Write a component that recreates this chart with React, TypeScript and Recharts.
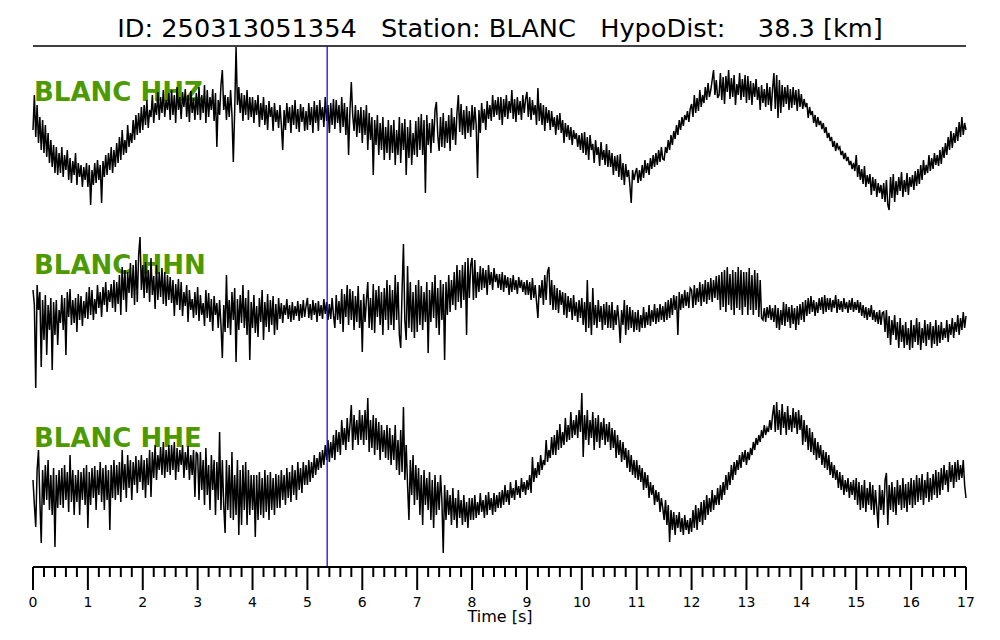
import { LineChart, Line, XAxis, YAxis, ReferenceLine } from "recharts"

// sampled every 0.025 s, amplitude in screen units (up = positive), one row per 0.5 s
const hhz = [
  -5, 30, -12, 20, -18, 8, -25, 5, -28, 0, -32, -8, -38, -15, -42, -20, -48, -22, -50, -28,
  -48, -22, -52, -30, -45, -25, -55, -33, -58, -36, -50, -28, -60, -38, -52, -40, -62, -42, -55, -38,
  -62, -40, -80, -45, -60, -38, -58, -35, -55, -40, -78, -36, -52, -30, -50, -28, -45, -22, -48, -25,
  -42, -18, -38, -12, -35, -5, -30, -15, -28, 0, -22, -8, -18, 5, -15, 10, -10, 12, -8, 18,
  -5, 20, 0, 25, -3, 15, 8, 30, 2, 22, 10, 33, 5, 28, 12, 35, 8, 25, 15, 32,
  5, 35, 10, 30, 2, 38, 15, 28, 6, 33, 18, 36, 8, 30, 3, 34, 12, 27, 5, 32,
  10, 38, 5, 30, 12, 40, 2, 35, 8, 28, 15, 36, 4, 32, -22, 25, 10, 40, 55, 15,
  30, 5, 28, 8, 35, 10, -37, 15, 78, 20, 38, 12, 32, 4, 30, 10, 35, 5, 28, 8,
  28, 2, 25, 10, 30, -2, 22, 5, 28, 0, 20, -5, 24, 8, 18, -6, 22, 3, 15, -3,
  20, 0, -25, 15, -5, 22, 2, 18, -8, 20, 0, 25, -4, 16, -7, 21, 3, 18, -6, 14,
  -5, 22, 0, 18, -8, 24, 2, 20, -6, 25, 5, 18, -2, 28, 4, 20, -8, 22, 0, 26,
  -4, 25, 2, 20, -8, 28, -2, 22, -10, 18, -30, 15, 43, 10, -6, 20, -12, 15, -8, 18,
  -18, 15, -10, 20, -25, 12, -15, 8, -50, 5, -20, 10, -30, 2, -25, 8, -35, -2, -28, 5,
  -35, 0, -28, 5, -40, -5, -30, 8, -38, 2, -25, 6, -50, -2, -33, 5, -40, -8, -30, 4,
  -32, 8, -25, 11, -30, 5, -68, 10, -20, 2, -28, 6, -18, 15, 23, -10, -26, 8, -22, 12,
  -23, 4, -18, 10, -26, 17, -15, 8, -20, 12, 30, -7, 21, -10, 15, -14, 19, -8, 14, -12,
  20, -5, 18, 0, -53, 15, -8, 22, 2, 16, -5, 24, 6, 20, 4, 30, 8, 25, 10, 28,
  5, 28, 0, 26, 8, 30, 6, 24, 12, 35, 6, 26, 3, 28, 10, 24, 5, 30, 12, 26,
  33, 8, 28, 5, 25, 10, 20, 0, 37, 4, 22, 0, 20, -6, 18, 2, 15, -5, 14, -2,
  8, -10, 10, -5, 12, -8, 5, -18, 2, -12, 0, -15, -2, -20, -5, -14, -8, -22, -10, -25,
  -8, -28, -7, -30, -12, -35, -10, -25, -19, -38, -15, -30, -22, -41, -17, -35, -25, -40, -19, -42,
  -25, -42, -28, -50, -31, -46, -30, -52, -29, -55, -38, -60, -39, -52, -45, -60, -78, -45, -55, -48,
  -43, -58, -45, -56, -40, -53, -35, -48, -38, -50, -33, -44, -30, -42, -28, -40, -25, -37, -22, -34,
  -35, -22, -28, -15, -25, -10, -20, -6, -14, 0, -10, 5, -5, 8, -1, 10, 5, 14, 3, 16,
  21, 8, 30, 12, 27, 14, 35, 18, 30, 22, 38, 25, 42, 28, 35, 45, 55, 30, 45, 27,
  30, 52, 25, 48, 21, 49, 33, 55, 26, 47, 28, 50, 20, 41, 30, 52, 25, 46, 28, 50,
  22, 49, 25, 44, 20, 42, 28, 46, 25, 38, 15, 40, 22, 36, 18, 42, 20, 38, 14, 36,
  52, 16, 50, 7, 45, 12, 40, 18, 38, 21, 40, 15, 36, 17, 38, 20, 35, 14, 36, 18,
  31, 16, 26, 18, 22, 7, 18, 10, 14, 2, 10, -2, 8, 0, 4, -4, 2, -8, -2, -13,
  -8, -16, -12, -22, -16, -26, -18, -24, -22, -30, -26, -34, -28, -36, -32, -40, -36, -44, -38, -46,
  -30, -52, -40, -55, -44, -59, -41, -62, -50, -59, -49, -70, -52, -66, -54, -72, -58, -68, -60, -74,
  -58, -77, -55, -80, -85, -52, -73, -49, -77, -56, -70, -52, -66, -47, -72, -55, -67, -48, -70, -52,
  -62, -50, -65, -46, -61, -44, -59, -40, -55, -35, -50, -40, -48, -30, -46, -33, -44, -28, -40, -30,
  -41, -25, -39, -22, -33, -18, -30, -12, -25, -6, -23, -8, -18, -2, -16, 3, -12, 8, -10, 2,
  -5,
]

const hhn = [
  20, 5, -78, 25, 0, 18, -57, 10, -30, 15, -45, 5, -20, 12, -60, 8, -25, 10, -35, 0,
  -13, 15, -20, 12, -45, 18, -7, 21, -15, 10, -13, 12, -22, 16, -10, 14, -16, 9, -8, 18,
  -9, 23, -5, 20, -10, 11, -4, 25, 2, 18, -7, 23, 5, 28, -2, 20, 8, 26, 2, 30,
  -2, 28, 6, 35, -5, 43, 10, 40, -2, 38, 17, 47, 12, 45, 5, 50, 8, 55, 73, 20,
  45, 12, 48, 17, 40, 8, 52, 15, 34, 1, 45, 10, 38, 13, 42, 6, 38, 4, 35, 10,
  33, 7, 30, -6, 26, 5, 31, 0, 28, -6, 18, 4, 25, -12, 20, 0, 11, -8, 18, -5,
  23, -11, 15, -5, 7, -16, 20, -8, 17, -12, 11, -21, 14, -5, 7, -18, 10, -15, -48, 5,
  -22, 35, -18, 10, -25, 18, -10, 22, -52, 11, -20, 15, -13, 25, -18, 12, -25, 20, -50, 8,
  -18, 15, -23, 4, -27, 12, -12, 20, -30, 8, -17, 16, -22, 10, -15, 14, -25, 6, -20, 12,
  -9, 7, -13, 5, -5, 11, -9, 5, -12, 8, -10, 4, -6, 9, -11, 6, -8, 10, -7, 4,
  12, -8, 6, -10, 10, -5, 7, -12, 9, -6, 5, -9, 11, -4, 8, -10, 6, -9, 12, -5,
  -18, 15, -10, 9, -14, 21, -22, 16, -7, 25, -15, 21, -10, 19, -20, 14, -12, 24, -18, 10,
  -42, 16, -12, 10, 28, -18, 12, -20, 26, -23, 20, -7, 24, -15, 18, -25, 22, -10, 30, -20,
  25, -15, 20, -20, 35, -10, 28, -25, -38, 20, 66, -10, -30, 44, -18, 28, -22, 18, -28, 25,
  -22, 30, -15, 24, -20, 18, -12, 28, -43, 20, -12, 28, -8, 35, -18, 22, -25, 30, -10, 26,
  -50, 28, -5, 35, -2, 30, 5, 38, 0, 45, 8, 40, 2, 45, 10, 48, -25, 52, 12, 45,
  52, 10, 50, 12, 38, 18, 44, 20, 42, 22, 40, 15, 45, 25, 38, 20, 42, 28, 36, 22,
  36, 20, 38, 18, 35, 22, 33, 15, 32, 18, 35, 20, 30, 16, 33, 22, 30, 18, 28, 15,
  30, 15, 28, 10, 32, 12, 25, 8, -8, 25, 12, 30, 5, 35, 10, 38, 43, 5, 30, 0,
  25, 0, 22, -3, 20, 5, 18, -5, 17, -8, 14, -2, 12, -10, 15, -6, 8, -12, 10, -8,
  12, -15, 8, -22, 30, -18, 8, -25, 22, -15, 5, -18, 10, -12, 4, -20, 6, -15, 8, -18,
  5, -18, 8, -20, 0, -15, 5, -10, -33, 0, -15, 10, -25, 5, -20, 3, -18, 0, -22, -2,
  -20, 0, -22, -5, -18, 3, -18, -2, -15, 5, -16, 0, -12, 6, -14, 2, -12, 6, -10, 4,
  -12, 8, -10, 10, -8, 12, -5, 15, 0, 14, -25, 18, 0, 16, 2, 20, 4, 18, 2, 22,
  20, 2, 25, 5, 22, 8, 28, 4, 26, 8, 30, 6, 28, 10, 32, 8, 30, 12, 34, 10,
  35, 0, 38, 3, 40, -2, 43, 5, 36, 0, 40, -5, 38, 2, 43, 0, 40, -5, 38, 3,
  38, -5, 42, 0, 35, -5, 40, 0, 37, -7, 30, -8, -10, 2, -12, 3, -8, 5, -10, 2,
  -12, 5, -18, 2, -20, 0, -15, 8, -16, 6, -12, 3, -18, 5, -14, 2, -20, 4, -15, 6,
  -10, 8, -12, 10, -6, 12, -4, 14, -2, 10, -6, 8, -3, 12, 0, 13, -4, 15, -2, 12,
  0, 12, -2, 10, 2, 15, -3, 11, 0, 9, -2, 12, 1, 8, -3, 10, 0, 12, -2, 8,
  0, 10, -3, 8, -6, 5, -8, 3, -10, 2, -7, 5, -10, 0, -12, -2, -14, 0, -15, -3,
  -2, -22, 0, -28, -6, -35, -10, -25, -5, -30, -12, -38, -8, -32, -15, -38, -12, -35, -18, -40,
  -10, -38, -15, -32, -8, -35, -12, -40, -18, -33, -10, -36, -14, -30, -12, -38, -16, -34, -10, -36,
  -15, -33, -12, -30, -18, -28, -10, -32, -14, -25, -8, -28, -12, -22, -5, -25, -8, -20, -2, -18,
  -6,
]

const hhe = [
  10, -15, -37, 20, 40, -10, -53, 20, -15, 25, -10, 30, -20, 15, -25, 22, -57, 15, -18, 20,
  -15, 22, -18, 25, -10, 18, -22, 35, -12, 20, -25, 15, -12, 20, -25, 18, -10, 22, -15, 25,
  -38, 18, -15, 22, -8, 24, -20, 20, -5, 28, -12, 22, -20, 25, -10, 20, -40, 25, -8, 30,
  -10, 25, -5, 28, -12, 40, 0, 26, -8, 35, 2, 30, -10, 28, 5, 34, -3, 30, 8, 35,
  0, 30, -8, 32, 5, 40, -7, 38, 12, 45, 10, 35, 20, 43, 15, 48, 12, 40, 18, 45,
  15, 45, 20, 48, 10, 42, 18, 40, 25, 45, 12, 38, 20, 44, 10, 35, 15, 40, -7, 38,
  35, -10, 38, 0, 30, -15, 42, -5, 25, -20, 35, 0, 30, -25, 28, -10, 58, -20, 30, -15,
  -43, 30, -20, 25, -28, 38, -30, 15, -25, 30, -45, 20, -35, 25, -20, 28, -35, 20, -25, 15,
  -20, 15, -47, 15, -30, 18, -25, 12, -28, 20, -22, 15, -30, 18, -20, 12, -25, 16, -18, 15,
  -18, 20, -10, 15, -15, 22, -8, 18, -12, 25, -5, 20, -10, 28, 0, 22, -3, 28, 5, 25,
  5, 30, 8, 28, 12, 35, 15, 32, 20, 38, 22, 40, 25, 45, 30, 50, 28, 48, 32, 55,
  30, 60, 38, 58, 35, 70, 45, 62, 40, 72, 48, 65, 85, 40, 75, 50, 70, 45, 80, 50,
  75, 45, 80, 50, 92, 38, 70, 42, 75, 35, 72, 40, 68, 30, 65, 38, 60, 32, 65, 30,
  62, 25, 55, 30, 65, 20, 50, 15, 60, 18, 83, 10, 45, 5, -30, 30, -5, 35, -15, 25,
  -10, 22, -25, 15, -35, 20, -15, 12, -20, 18, -30, 10, -38, 15, -25, 8, -20, 15, -10, -63,
  5, -30, 0, -25, -5, -35, 2, -30, -8, -38, 0, -28, -10, -35, -5, -32, -12, -38, -8, -30,
  -8, -30, -5, -28, -12, -25, -3, -22, -10, -28, -5, -25, -2, -20, -8, -25, -3, -22, -5, -18,
  -2, -18, 0, -15, 5, -12, 0, -15, 8, -8, 2, -10, 10, -5, 4, -8, 12, -2, 8, -5,
  10, 0, 15, -3, 33, 8, 22, 12, 28, 15, 35, 20, 30, 25, 50, 28, 40, 32, 53, 35,
  55, 35, 60, 40, 66, 42, 58, 45, 72, 48, 65, 50, 78, 52, 70, 55, 75, 52, 80, 58,
  97, 33, 75, 50, 80, 45, 70, 52, 78, 40, 72, 48, 75, 42, 68, 50, 72, 45, 66, 48,
  68, 40, 62, 42, 60, 32, 55, 35, 50, 28, 48, 30, 42, 22, 40, 18, 35, 15, 30, 12,
  30, 10, 25, 8, 22, 0, 18, 2, 15, -8, 8, -5, 5, -15, 0, -12, -2, -22, -8, -18,
  -30, -10, -35, -15, -52, -20, -40, -22, -45, -25, -38, -22, -42, -28, -45, -25, -40, -30, -44, -28,
  -42, -20, -38, -15, -40, -18, -32, -12, -35, -10, -30, -5, -25, -8, -22, 0, -20, -5, -15, 2,
  -15, 5, -10, 8, -5, 15, 0, 18, 5, 25, 10, 28, 15, 30, 20, 35, 22, 38, 28, 40,
  25, 38, 30, 42, 35, 48, 40, 52, 45, 55, 48, 60, 52, 65, 55, 62, 58, 70, 60, 75,
  85, 58, 88, 60, 80, 55, 86, 62, 78, 55, 84, 60, 75, 58, 82, 62, 78, 56, 80, 60,
  75, 45, 70, 48, 65, 40, 62, 38, 58, 35, 52, 30, 48, 32, 45, 25, 40, 22, 38, 20,
  35, 15, 28, 12, 25, 10, 20, 2, 18, 0, 15, -5, 10, -2, 12, -8, 8, -5, 10, -10,
  12, -15, 8, -20, 5, -18, 10, -22, 2, -15, 8, -20, 5, -25, 0, -18, -38, 5, -20, 0,
  -25, 10, 17, -35, 5, -20, 8, -22, 3, -25, 10, -15, 5, -20, 12, -18, 6, -22, 8, -15,
  12, -18, 10, -15, 15, -12, 12, -10, 16, -15, 10, -8, 18, -12, 12, -10, 16, -5, 20, -8,
  18, -5, 22, 0, 25, 5, 20, -2, 28, 8, 25, 2, 28, 8, 30, 10, 25, 12, 30, 5,
  -8,
]

const channels = ["BLANC HHZ", "BLANC HHN", "BLANC HHE"]
const majorTicks = [0, 1, 2, 3, 4, 5, 6, 7, 8, 9, 10, 11, 12, 13, 14, 15, 16, 17]
const pickTime = 5.36
const title = "ID: 250313051354   Station: BLANC   HypoDist:    38.3 [km]"

const DT = 0.025
const OFFSETS = [442, 257, 77] // vertical slot of each trace
const TOP = 521

const data = hhz.map((_, i) => ({
  t: +(i * DT).toFixed(3),
  z: hhz[i] + OFFSETS[0],
  n: (hhn[i] ?? 0) + OFFSETS[1],
  e: (hhe[i] ?? 0) + OFFSETS[2],
}))

const ticks: number[] = []
majorTicks.forEach((m) => {
  ticks.push(m)
  if (m < 17) [0.2, 0.4, 0.6, 0.8].forEach((f) => ticks.push(+(m + f).toFixed(1)))
})

const FONT = "DejaVu Sans, Verdana, sans-serif"

const TimeTick = (props: any) => {
  const { x, y, payload } = props
  const v = payload.value
  const major = Math.abs(v - Math.round(v)) < 1e-6
  return (
    <g>
      <line x1={x} x2={x} y1={y} y2={y + (major ? 23 : 10)} stroke="#000" strokeWidth={2} />
      {major && (
        <text x={x} y={y + 40} textAnchor="middle" fontSize={14} fontFamily={FONT} fill="#000">
          {Math.round(v)}
        </text>
      )}
    </g>
  )
}

const labelY = [101, 274, 447]

export default function App() {
  return (
    <div style={{ position: "absolute", left: 0, top: 0, width: 1000, height: 640, background: "#fff" }}>
      <svg width={1000} height={640} style={{ position: "absolute", left: 0, top: 0 }}>
        <text x={500} y={37} textAnchor="middle" fontSize={25.6} fontFamily={FONT} fill="#000" style={{ whiteSpace: "pre" }}>
          {title}
        </text>
        {channels.map((c, i) => (
          <text key={c} x={34} y={labelY[i]} fontSize={26} fontWeight="bold" fontFamily={FONT} fill="#4c9a00">
            {c}
          </text>
        ))}
        <text x={500} y={622} textAnchor="middle" fontSize={16} fontFamily={FONT} fill="#000">
          Time [s]
        </text>
      </svg>
      <div style={{ position: "absolute", left: 0, top: 0 }}>
        <LineChart width={1000} height={640} data={data} margin={{ top: 46, right: 34, bottom: 43, left: 33 }}>
          <XAxis
            dataKey="t"
            type="number"
            domain={[0, 17]}
            ticks={ticks}
            interval={0}
            height={30}
            tickSize={0}
            tickMargin={0}
            tickLine={false}
            tick={<TimeTick />}
            axisLine={{ stroke: "#000", strokeWidth: 2 }}
          />
          <YAxis hide type="number" domain={[0, TOP]} allowDataOverflow />
          <ReferenceLine y={TOP} stroke="#000" strokeWidth={1.5} />
          <Line type="linear" dataKey="z" stroke="#000" strokeWidth={1.5} dot={false} isAnimationActive={false} />
          <Line type="linear" dataKey="n" stroke="#000" strokeWidth={1.5} dot={false} isAnimationActive={false} />
          <Line type="linear" dataKey="e" stroke="#000" strokeWidth={1.5} dot={false} isAnimationActive={false} />
          <ReferenceLine x={pickTime} stroke="#1010e0" strokeWidth={1.3} />
        </LineChart>
      </div>
    </div>
  )
}
